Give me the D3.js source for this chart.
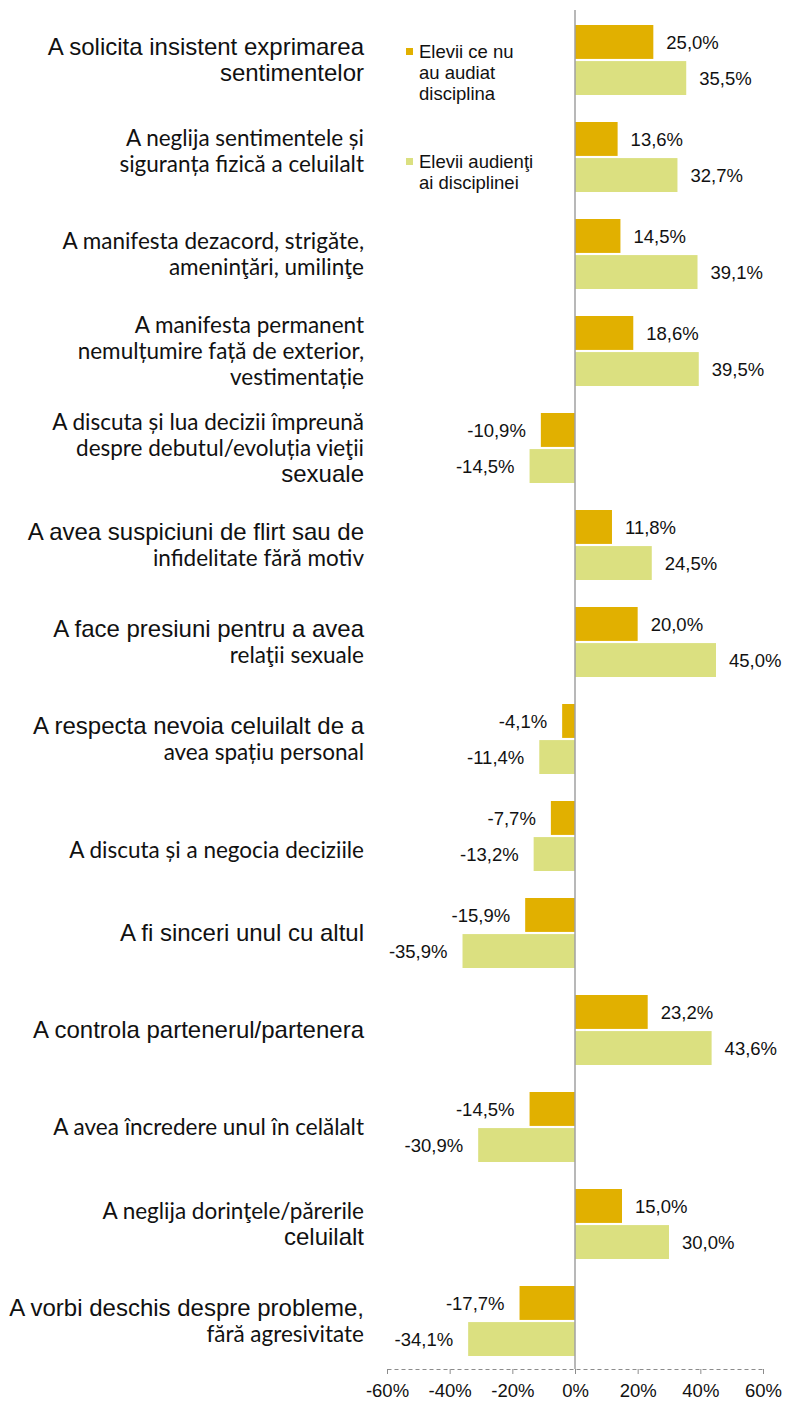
<!DOCTYPE html>
<html>
<head>
<meta charset="utf-8">
<script src="https://cdn.jsdelivr.net/npm/d3@7"></script>
<style>
  body { margin: 0; background: #fff; }
  text { fill: #111; }
</style>
</head>
<body>
<svg id="chart"></svg>
<script>
// category labels, already broken into the lines used in the original
const categories = [
	[ "A solicita insistent exprimarea", "sentimentelor" ],
	[ "A neglija sentimentele și", "siguranța fizică a celuilalt" ],
	[ "A manifesta dezacord, strigăte,", "ameninţări, umilinţe" ],
	[ "A manifesta permanent", "nemulțumire față de exterior,", "vestimentație" ],
	[ "A discuta și lua decizii împreună", "despre debutul/evoluția vieţii", "sexuale" ],
	[ "A avea suspiciuni de flirt sau de", "infidelitate fără motiv" ],
	[ "A face presiuni pentru a avea", "relaţii sexuale" ],
	[ "A respecta nevoia celuilalt de a", "avea spațiu personal" ],
	[ "A discuta și a negocia deciziile" ],
	[ "A fi sinceri unul cu altul" ],
	[ "A controla partenerul/partenera" ],
	[ "A avea încredere unul în celălalt" ],
	[ "A neglija dorinţele/părerile", "celuilalt" ],
	[ "A vorbi deschis despre probleme,", "fără agresivitate" ]
] ;

// Elevii ce nu au audiat disciplina
const notAudited = [ 25.0, 13.6, 14.5, 18.6, -10.9, 11.8, 20.0, -4.1, -7.7, -15.9, 23.2, -14.5, 15.0, -17.7 ] ;
// Elevii audienţi ai disciplinei
const audited = [ 35.5, 32.7, 39.1, 39.5, -14.5, 24.5, 45.0, -11.4, -13.2, -35.9, 43.6, -30.9, 30.0, -34.1 ] ;

const seriesNames = [
	[ "Elevii ce nu", "au audiat", "disciplina" ],
	[ "Elevii audienţi", "ai disciplinei" ]
] ;
const xTicks = [ -60, -40, -20, 0, 20, 40, 60 ] ;

// lines that were set in the narrower humanist face in the original
const humanistLines = new Set( [
	"A neglija sentimentele și", "siguranța fizică a celuilalt",
	"A manifesta dezacord, strigăte,", "ameninţări, umilinţe",
	"A manifesta permanent", "nemulțumire față de exterior,", "vestimentație",
	"A discuta și lua decizii împreună", "despre debutul/evoluția vieţii",
	"infidelitate fără motiv", "relaţii sexuale", "avea spațiu personal",
	"A discuta și a negocia deciziile", "A avea încredere unul în celălalt",
	"A neglija dorinţele/părerile", "fără agresivitate"
] ) ;
// small vertical nudges of some label blocks, as in the original
const labelNudge = { 1: -6, 8: 14 } ;

const colors = [ '#e1b000', '#dbe080' ] ;
const arial = '"Liberation Sans", Arial, sans-serif' ;
const humanist = 'Lato, "Open Sans", sans-serif' ;

const geom = { width: 786, height: 1402, top: 11, bottom: 1369, left: 387, right: 763, labelX: 364 } ;

const rows = categories.map( (c, i) => ({ i: i, lines: c, values: [ notAudited[i], audited[i] ] }) ) ;

const loc = d3.formatLocale( { decimal: ",", thousands: ".", grouping: [3], currency: [ "", "" ], minus: "-" } ) ;
const fmtVal = v => loc.format( ".1f" )( v ) + "%" ;
const fmtTick = v => loc.format( ".0f" )( v ) + "%" ;

const scales = {
	x: d3.scaleLinear().domain( [ -60, 60 ] ).range( [ geom.left, geom.right ] ),
	y: d3.scaleBand().domain( d3.range( categories.length ) ).range( [ geom.top, geom.bottom ] ),
	s: d3.scaleBand().domain( [ 0, 1 ] ).range( [ 14, 84 ] ).paddingInner( 0.06 )
} ;

const svg = d3.select( '#chart' )
	.attr( 'width', geom.width )
	.attr( 'height', geom.height ) ;

// category labels
const lh = 26 ;
svg.append( 'g' )
	.selectAll( 'text' )
	.data( rows )
	.join( 'text' )
	.attr( 'text-anchor', 'end' )
	.each( function( d ) {
		const cy = scales.y( d.i ) + scales.y.bandwidth() / 2 + ( labelNudge[d.i] || 0 ) ;
		const y0 = cy - ( d.lines.length - 1 ) * lh / 2 + 8 ;
		d3.select( this ).selectAll( 'tspan' )
			.data( d.lines )
			.join( 'tspan' )
			.attr( 'x', geom.labelX )
			.attr( 'y', (l, k) => y0 + k * lh )
			.attr( 'font-family', l => humanistLines.has( l ) ? humanist : arial )
			.attr( 'font-size', l => humanistLines.has( l ) ? 22.5 : 24 )
			.text( l => l ) ;
	} ) ;

// bars
const groups = svg.append( 'g' )
	.selectAll( 'g' )
	.data( rows )
	.join( 'g' )
	.attr( 'transform', d => 'translate(0 ' + scales.y( d.i ) + ')' ) ;

const cells = d => d.values.map( (v, s) => ({ v: v, s: s }) ) ;

groups.selectAll( 'rect' )
	.data( cells )
	.join( 'rect' )
	.attr( 'x', c => scales.x( Math.min( 0, c.v ) ) )
	.attr( 'width', c => Math.abs( scales.x( c.v ) - scales.x( 0 ) ) )
	.attr( 'y', c => scales.s( c.s ) )
	.attr( 'height', scales.s.bandwidth() )
	.attr( 'fill', c => colors[c.s] ) ;

groups.selectAll( 'text' )
	.data( cells )
	.join( 'text' )
	.attr( 'x', c => c.v >= 0 ? scales.x( c.v ) + 13 : scales.x( c.v ) - 15 )
	.attr( 'y', c => scales.s( c.s ) + scales.s.bandwidth() / 2 )
	.attr( 'dy', '0.36em' )
	.attr( 'text-anchor', c => c.v >= 0 ? 'start' : 'end' )
	.attr( 'font-family', arial )
	.attr( 'font-size', 18.5 )
	.text( c => fmtVal( c.v ) ) ;

// x axis
const axis = svg.append( 'g' )
	.attr( 'transform', 'translate(0 ' + geom.bottom + ')' )
	.call( d3.axisBottom( scales.x ).tickValues( xTicks ).tickFormat( fmtTick ).tickSize( 5 ).tickSizeOuter( 0 ).tickPadding( 10 ) ) ;
axis.select( '.domain' )
	.attr( 'stroke', '#8c8c8c' )
	.attr( 'stroke-dasharray', '4,3' ) ;
axis.selectAll( '.tick line' ).attr( 'stroke', '#8c8c8c' ) ;
axis.selectAll( '.tick text' )
	.attr( 'font-family', arial )
	.attr( 'font-size', 18.5 )
	.attr( 'fill', '#111' ) ;

// zero line
svg.append( 'line' )
	.attr( 'x1', scales.x( 0 ) )
	.attr( 'x2', scales.x( 0 ) )
	.attr( 'y1', 10 )
	.attr( 'y2', geom.bottom )
	.attr( 'stroke', '#a0a0a0' )
	.attr( 'stroke-width', 1.5 ) ;

// legend
const legendY = [ 58, 168 ] ;
const legend = svg.append( 'g' )
	.selectAll( 'g' )
	.data( seriesNames )
	.join( 'g' )
	.attr( 'transform', (d, i) => 'translate(406 ' + legendY[i] + ')' ) ;
legend.append( 'rect' )
	.attr( 'x', 0 )
	.attr( 'y', -10 )
	.attr( 'width', 7 )
	.attr( 'height', 7 )
	.attr( 'fill', (d, i) => colors[i] ) ;
legend.append( 'text' )
	.attr( 'font-family', arial )
	.attr( 'font-size', 18.5 )
	.selectAll( 'tspan' )
	.data( d => d )
	.join( 'tspan' )
	.attr( 'x', 13 )
	.attr( 'y', (l, k) => k * 21 )
	.text( l => l ) ;
</script>
</body>
</html>
